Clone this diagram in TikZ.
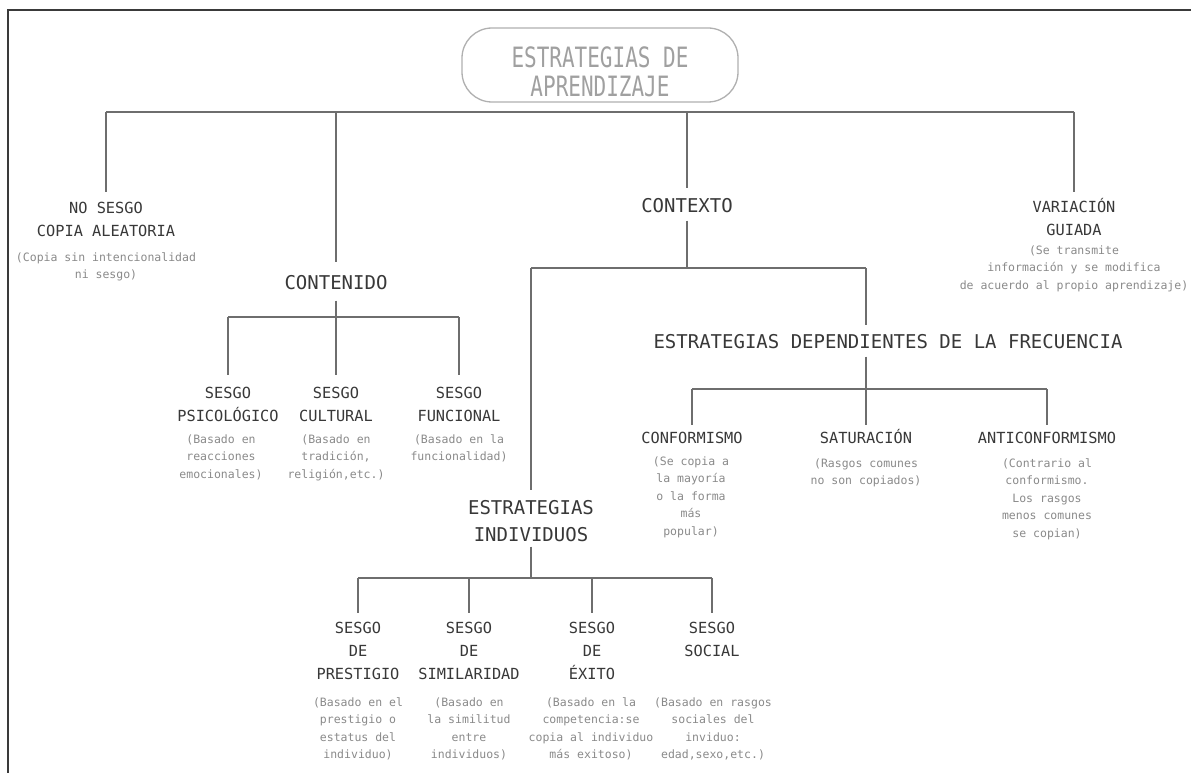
\documentclass[tikz,border=0pt]{standalone}
\usepackage{fontspec}
\setmainfont{DejaVu Sans Mono}
\usepackage{graphicx}
\definecolor{linec}{HTML}{6E6E6E}
\definecolor{framec}{HTML}{3A3A3A}
\definecolor{headc}{HTML}{383838}
\definecolor{descc}{HTML}{8A8A8A}
\definecolor{titlec}{HTML}{A0A0A0}
\definecolor{boxc}{HTML}{B0B0B0}
\newcommand{\tsr}{\rule{0pt}{0.95em}}
\newcommand{\tsq}[1]{\scalebox{0.75}[1]{#1}}
\tikzset{
  conn/.style={draw=linec, line width=1.3pt},
  big/.style={anchor=north, inner sep=0pt, align=center, text=headc, font=\fontsize{19}{27}\selectfont},
  sub/.style={anchor=north, inner sep=0pt, align=center, text=headc, font=\fontsize{15.3}{23}\selectfont},
  desc/.style={anchor=north, inner sep=0pt, align=center, text=descc, font=\fontsize{11.5}{17.6}\selectfont},
  titlebox/.style={draw=boxc, line width=1.3pt, rounded corners=30pt, minimum width=276pt, minimum height=74pt, inner sep=0pt},
  titletext/.style={anchor=north, inner sep=0pt, align=center, text=titlec, font=\fontsize{28}{29}\selectfont},
}
\begin{document}
\begin{tikzpicture}[x=1pt,y=-1pt]
\useasboundingbox (0,0) rectangle (1191,773);
\fill[white] (0,0) rectangle (1191,773);
% frame (top and left edges)
\draw[draw=framec, line width=2pt] (7.5,773) -- (7.5,10.5) -- (1191,10.5);

% title
\node[titlebox] (tbox) at (600,65) {};
\node[titletext] (title) at (600,40.6) {\tsr\tsq{ESTRATEGIAS DE}\\\tsq{APRENDIZAJE}};

% first level
\node[sub] (nosesgo) at (106,199) {\tsr NO SESGO\\COPIA ALEATORIA};
\node[desc] (nosesgod) at (106,250) {\tsr (Copia sin intencionalidad\\ni sesgo)};
\node[big] (contenido) at (336,271) {\tsr CONTENIDO};
\node[big] (contexto) at (687,194) {\tsr CONTEXTO};
\node[sub] (variacion) at (1074,198) {\tsr VARIACIÓN\\GUIADA};
\node[desc] (variaciond) at (1074,243) {\tsr (Se transmite\\información y se modifica\\de acuerdo al propio aprendizaje)};

% contenido children
\node[sub] (psico) at (228,384) {\tsr SESGO\\PSICOLÓGICO};
\node[desc] (psicod) at (221,432) {\tsr (Basado en\\reacciones\\emocionales)};
\node[sub] (cult) at (336,384) {\tsr SESGO\\CULTURAL};
\node[desc] (cultd) at (336,432) {\tsr (Basado en\\tradición,\\religión,etc.)};
\node[sub] (func) at (459,384) {\tsr SESGO\\FUNCIONAL};
\node[desc] (funcd) at (459,432) {\tsr (Basado en la\\funcionalidad)};

% contexto children
\node[big] (indiv) at (531,496) {\tsr ESTRATEGIAS\\INDIVIDUOS};
\node[big] (dep) at (888,330) {\tsr ESTRATEGIAS DEPENDIENTES DE LA FRECUENCIA};

% frecuencia children
\node[sub] (conf) at (692,429) {\tsr CONFORMISMO};
\node[desc] (confd) at (691,454) {\tsr (Se copia a\\la mayoría\\o la forma\\más\\popular)};
\node[sub] (sat) at (866,429) {\tsr SATURACIÓN};
\node[desc] (satd) at (866,456) {\tsr (Rasgos comunes\\no son copiados)};
\node[sub] (anti) at (1047,429) {\tsr ANTICONFORMISMO};
\node[desc] (antid) at (1047,456) {\tsr (Contrario al\\conformismo.\\Los rasgos\\menos comunes\\se copian)};

% individuos children
\node[sub] (prest) at (358,619) {\tsr SESGO\\DE\\PRESTIGIO};
\node[desc] (prestd) at (358,695) {\tsr (Basado en el\\prestigio o\\estatus del\\individuo)};
\node[sub] (simil) at (469,619) {\tsr SESGO\\DE\\SIMILARIDAD};
\node[desc] (simild) at (469,695) {\tsr (Basado en\\la similitud\\entre\\individuos)};
\node[sub] (exito) at (592,619) {\tsr SESGO\\DE\\ÉXITO};
\node[desc] (exitod) at (591,695) {\tsr (Basado en la\\competencia:se\\copia al individuo\\más exitoso)};
\node[sub] (social) at (712,619) {\tsr SESGO\\SOCIAL};
\node[desc] (sociald) at (713,695) {\tsr (Basado en rasgos\\sociales del\\inviduo:\\edad,sexo,etc.)};

% connectors: top level
\coordinate (barT) at (600,112);
\draw[conn] (nosesgo.north |- barT) -- (variacion.north |- barT);
\draw[conn, shorten >=7pt] (nosesgo.north |- barT) -- (nosesgo.north);
\draw[conn, shorten >=9pt] (contenido.north |- barT) -- (contenido.north);
\draw[conn, shorten >=6pt] (contexto.north |- barT) -- (contexto.north);
\draw[conn, shorten >=6pt] (variacion.north |- barT) -- (variacion.north);

% contenido
\coordinate (barA) at (336,317);
\draw[conn, shorten <=11pt] (contenido.south) -- (contenido.south |- barA);
\draw[conn] (psico.north |- barA) -- (func.north |- barA);
\draw[conn, shorten >=9pt] (psico.north |- barA) -- (psico.north);
\draw[conn, shorten >=9pt] (cult.north |- barA) -- (cult.north);
\draw[conn, shorten >=9pt] (func.north |- barA) -- (func.north);

% contexto
\coordinate (barC) at (687,268);
\coordinate (cxR) at (866,268);
\draw[conn, shorten <=8pt] (contexto.south) -- (contexto.south |- barC);
\draw[conn] (indiv.north |- barC) -- (cxR);
\draw[conn, shorten >=6pt] (indiv.north |- barC) -- (indiv.north);
\draw[conn, shorten >=5pt] (cxR) -- (cxR |- dep.north);

% frecuencia
\coordinate (barD) at (866,389);
\draw[conn, shorten <=8pt] (cxR |- dep.south) -- (barD);
\draw[conn] (conf.north |- barD) -- (anti.north |- barD);
\draw[conn, shorten >=4pt] (conf.north |- barD) -- (conf.north);
\draw[conn, shorten >=4pt] (sat.north |- barD) -- (sat.north);
\draw[conn, shorten >=4pt] (anti.north |- barD) -- (anti.north);

% individuos
\coordinate (barI) at (531,578);
\draw[conn, shorten <=5pt] (indiv.south) -- (indiv.south |- barI);
\draw[conn] (prest.north |- barI) -- (social.north |- barI);
\draw[conn, shorten >=6pt] (prest.north |- barI) -- (prest.north);
\draw[conn, shorten >=6pt] (simil.north |- barI) -- (simil.north);
\draw[conn, shorten >=6pt] (exito.north |- barI) -- (exito.north);
\draw[conn, shorten >=6pt] (social.north |- barI) -- (social.north);
\end{tikzpicture}
\end{document}
